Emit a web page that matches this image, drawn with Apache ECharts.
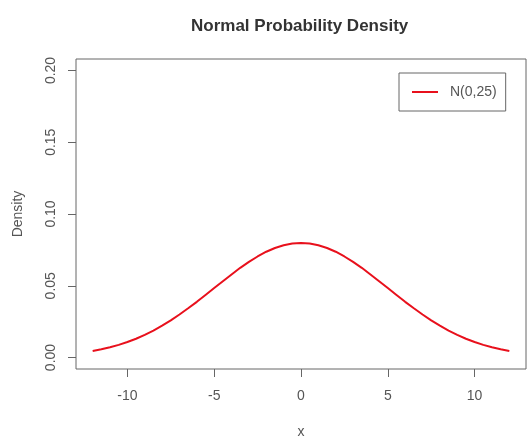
<!DOCTYPE html>
<html>
<head>
<meta charset="utf-8">
<script src="https://cdn.jsdelivr.net/npm/echarts@6/dist/echarts.min.js"></script>
<style>
  html, body { margin: 0; padding: 0; background: #fff; }
  #chart { width: 528px; height: 439px; }
</style>
</head>
<body>
<div id="chart"></div>
<script>
// x positions and density values
var xs = [-12, -11.5, -11, -10.5, -10, -9.5, -9, -8.5, -8, -7.5, -7, -6.5, -6, -5.5, -5, -4.5, -4, -3.5, -3, -2.5, -2, -1.5, -1, -0.5,
    0, 0.5, 1, 1.5, 2, 2.5, 3, 3.5, 4, 4.5, 5, 5.5, 6, 6.5, 7, 7.5, 8, 8.5, 9, 9.5, 10, 10.5, 11, 11.5, 12];
var density = [0.0045, 0.0057, 0.0071, 0.0088, 0.0108, 0.0131, 0.0158, 0.0188, 0.0222, 0.0259, 0.0300, 0.0343, 0.0388, 0.0436, 0.0484, 0.0532, 0.0579, 0.0625, 0.0666, 0.0704, 0.0737, 0.0763, 0.0782, 0.0794,
    0.0798, 0.0794, 0.0782, 0.0763, 0.0737, 0.0704, 0.0666, 0.0625, 0.0579, 0.0532, 0.0484, 0.0436, 0.0388, 0.0343, 0.0300, 0.0259, 0.0222, 0.0188, 0.0158, 0.0131, 0.0108, 0.0088, 0.0071, 0.0057, 0.0045];
var xTicks = [-10, -5, 0, 5, 10];
var yTicks = [0, 0.05, 0.10, 0.15, 0.20];
var seriesName = 'N(0,25)';

var font = 'Liberation Sans, Arial, sans-serif';
var ink = '#555';

var myChart = echarts.init(document.getElementById('chart'));
myChart.setOption({
    animation: false,
    textStyle: { fontFamily: font, color: ink },
    title: {
        text: 'Normal Probability Density',
        left: 186,
        top: 13,
        textStyle: { fontSize: 17, fontWeight: 'bold', color: '#333', fontFamily: font }
    },
    legend: {
        left: 399,
        top: 73,
        padding: [12, 9, 12, 13],
        borderColor: '#666',
        borderWidth: 1,
        itemWidth: 26,
        itemHeight: 2,
        icon: 'rect',
        textStyle: { fontSize: 14, color: ink, padding: [0, 0, 0, 7] },
        data: [seriesName]
    },
    grid: {
        show: true,
        left: 76,
        right: 2,
        top: 59,
        bottom: 70,
        outerBoundsMode: 'none',
        borderColor: '#666',
        borderWidth: 1,
        backgroundColor: 'transparent'
    },
    xAxis: {
        type: 'value',
        min: -12.96,
        max: 12.96,
        name: 'x',
        nameLocation: 'middle',
        nameGap: 56,
        nameTextStyle: { fontSize: 14, color: ink },
        axisLine: { show: false, onZero: false },
        splitLine: { show: false },
        axisTick: { show: true, length: 8, customValues: xTicks, lineStyle: { color: '#666' } },
        axisLabel: { fontSize: 14, color: ink, margin: 20, customValues: xTicks }
    },
    yAxis: {
        type: 'value',
        min: -0.008,
        max: 0.208,
        name: 'Density',
        nameLocation: 'middle',
        nameGap: 51,
        nameRotate: 90,
        nameTextStyle: { fontSize: 14, color: ink },
        axisLine: { show: false, onZero: false },
        splitLine: { show: false },
        axisTick: { show: true, length: 8, customValues: yTicks, lineStyle: { color: '#666' } },
        axisLabel: {
            fontSize: 14,
            color: ink,
            margin: 18,
            rotate: 90,
            customValues: yTicks,
            formatter: function (v) { return v.toFixed(2); }
        }
    },
    series: [{
        name: seriesName,
        type: 'line',
        data: xs.map(function (x, i) { return [x, density[i]]; }),
        symbol: 'none',
        smooth: false,
        lineStyle: { color: '#e8101c', width: 2 },
        itemStyle: { color: '#e8101c' }
    }]
});
</script>
</body>
</html>
